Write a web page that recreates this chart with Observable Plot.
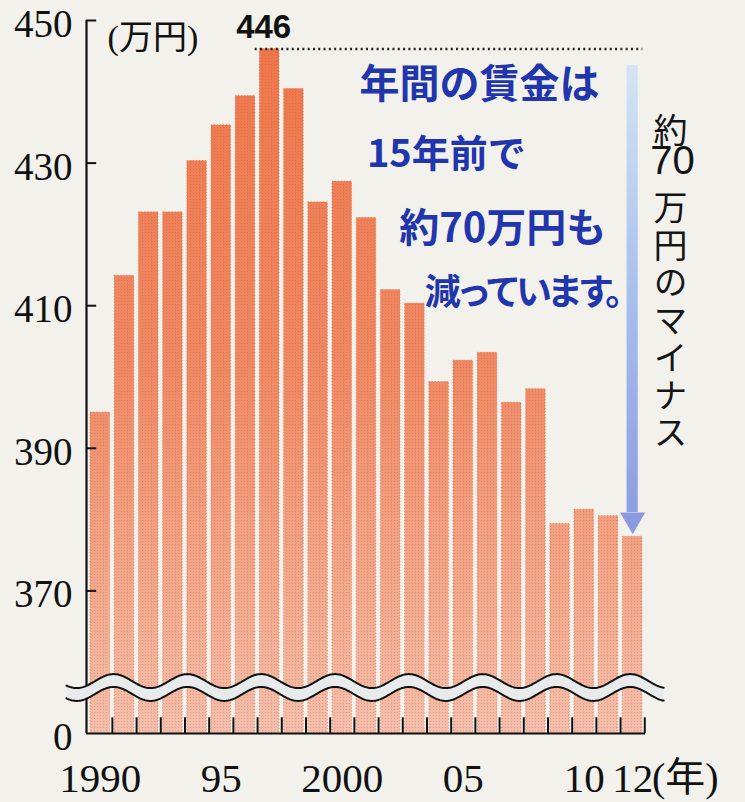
<!DOCTYPE html>
<html>
<head>
<meta charset="utf-8">
<script src="https://cdn.jsdelivr.net/npm/d3@7"></script>
<script src="https://cdn.jsdelivr.net/npm/@observablehq/plot@0.6"></script>
<style>
  html, body { margin: 0; padding: 0; background: #f2f1ec; }
  #chart { width: 745px; height: 802px; }
  .note4 text { letter-spacing: -5px; }
  .vcap text { writing-mode: vertical-rl; }
  .vcap2 text { writing-mode: vertical-rl; letter-spacing: 3.5px; }
</style>
</head>
<body>
<div id="chart"></div>
<script>
// ---- data ----
const years = [1990, 1991, 1992, 1993, 1994, 1995, 1996, 1997, 1998, 1999, 2000, 2001,
               2002, 2003, 2004, 2005, 2006, 2007, 2008, 2009, 2010, 2011, 2012];
const wages = [395.0, 414.2, 423.1, 423.1, 430.3, 435.3, 439.4, 446.0, 440.4, 424.5, 427.4, 422.3,
               412.2, 410.3, 399.3, 402.3, 403.4, 396.4, 398.3, 379.4, 381.4, 380.5, 377.6];
const yTicks = [350, 370, 390, 410, 430, 450];
const yTickLabels = ["0", "370", "390", "410", "430", "450"];
const xTicks = [1990, 1995, 2000, 2005, 2010, 2012];
const xTickLabels = ["1990", "95", "2000", "05", "10", "12"];
const unitLabel = "(万円)";
const yearLabel = "(年)";
const peakLabel = "446";
const noteLines = ["年間の賃金は", "15年前で", "約70万円も", "減っています。"];
const sideNote = ["約", "70", "万円のマイナス"];

const table = years.map((year, i) => ({year, wage: wages[i]}));
const peak = table[wages.indexOf(d3.max(wages))];
const last = table[table.length - 1];

// axis-break decoration (wavy band), in data units
const breakCenter = 356.45, breakAmp = 0.98, breakHalf = 0.9, breakPeriod = 3.05, breakPhase = 1990.55;
const wave = d3.range(1988.6, 2013.3, 0.04).map(t => {
  const c = breakCenter + breakAmp * Math.cos(2 * Math.PI * (t - breakPhase) / breakPeriod);
  return {t, top: c + breakHalf, bottom: c - breakHalf};
});

const xMin = 1989.43, xMax = 2012.53, yMin = 350, yMax = 450;
const serif = "'Liberation Serif', 'DejaVu Serif', 'Noto Sans CJK JP', serif";
const cjk = "'Noto Sans CJK JP', 'Noto Sans', sans-serif";

const notePos = [
  {x: 2005.67, y: 440.9, size: 40},
  {x: 2004.3, y: 431.1, size: 38},
  {x: 2006.63, y: 420.8, size: 40},
  {x: 2007.78, y: 411.7, size: 36}
];
const sidePos = [
  {y: 438.6, cls: "vcap"},
  {y: 430.2, cls: "hcap"},
  {y: 427.7, cls: "vcap2"}
];

const plot = Plot.plot({
  width: 745,
  height: 802,
  marginTop: 20,
  marginBottom: 69,
  marginLeft: 86,
  marginRight: 100,
  style: {background: "#f2f1ec", fontFamily: serif, overflow: "visible"},
  x: {domain: [xMin, xMax], axis: null},
  y: {domain: [yMin, yMax], axis: null},
  marks: [
    // bars
    Plot.rectY(table, {x1: d => d.year - 0.5, x2: d => d.year + 0.5, y1: yMin, y2: "wage",
      insetLeft: 2.3, insetRight: 2.3, fill: "url(#barGrad)"}),
    Plot.rectY(table, {x1: d => d.year - 0.5, x2: d => d.year + 0.5, y1: yMin, y2: "wage",
      insetLeft: 2.3, insetRight: 2.3, fill: "url(#dots)", stroke: "#d5623f", strokeWidth: 1,
      strokeDasharray: "1,2", strokeOpacity: 0.6}),
    // year boundary ticks on the base line
    Plot.ruleX(years, {x: d => d + 0.5, y1: yMin, y2: yMin + 2.2, stroke: "#111", strokeWidth: 2}),
    // axes lines
    Plot.ruleY([yMin], {x1: xMin, x2: xMax, stroke: "#111", strokeWidth: 2.2}),
    Plot.ruleX([xMin], {y1: yMin, y2: yMax, stroke: "#111", strokeWidth: 2.2}),
    Plot.ruleY(yTicks.filter(d => d > 360), {x1: xMin, x2: xMin + 0.42, stroke: "#111", strokeWidth: 2}),
    // axis break
    Plot.areaY(wave, {x: "t", y1: "bottom", y2: "top", fill: "#e7ebec", curve: "linear"}),
    Plot.line(wave, {x: "t", y: "top", stroke: "#111", strokeWidth: 2}),
    Plot.line(wave, {x: "t", y: "bottom", stroke: "#111", strokeWidth: 2}),
    // axes labels
    Plot.axisY({ticks: yTicks, tickFormat: d => yTickLabels[yTicks.indexOf(d)], tickSize: 0,
      tickPadding: 14, fontSize: 39, dy: 4, fill: "#111"}),
    Plot.axisX({ticks: xTicks, tickFormat: d => xTickLabels[xTicks.indexOf(d)], tickSize: 0,
      tickPadding: 29, fontSize: 41, fill: "#111"}),
    Plot.text([yearLabel], {x: 2012.8, y: yMin, text: d => d, textAnchor: "start", lineAnchor: "top",
      dy: 29, fontSize: 40, fill: "#111"}),
    Plot.text([unitLabel], {x: 1990.3, y: 447.6, text: d => d, textAnchor: "start", fontSize: 34,
      fill: "#111"}),
    // peak marker
    Plot.ruleY([peak], {y: "wage", x1: d => d.year - 0.6, x2: 2012.42, stroke: "#222", strokeWidth: 2.4,
      strokeDasharray: "2,3.3"}),
    Plot.text([peak], {x: "year", y: "wage", text: () => peakLabel, dy: -22, dx: -6, fontSize: 33,
      fontWeight: "bold", fontFamily: "'Liberation Sans', Arial, sans-serif", fill: "#111"}),
    // minus arrow
    Plot.rect([last], {x1: d => d.year - 0.23, x2: d => d.year + 0.23, y1: 381.0, y2: 443.7,
      fill: "url(#arrowGrad)"}),
    Plot.dot([last], {x: "year", y: 379.98, symbol: "triangle", rotate: 180, r: 9.3, fill: "#8c9be0",
      stroke: "none"}),
    // handwritten note
    ...noteLines.map((line, i) => Plot.text([line], {x: notePos[i].x, y: notePos[i].y, text: d => d,
      fontSize: notePos[i].size, fontWeight: "bold", fontFamily: cjk, fill: "#2135ad",
      className: i === 3 ? "note4" : "note"})),
    // vertical caption: 約 / 70 (upright, one cell) / 万円のマイナス
    ...sideNote.map((part, i) => Plot.text([part], {x: 2013.56, y: sidePos[i].y, text: d => d,
      textAnchor: i === 1 ? "middle" : "start",
      dx: i === 1 ? 2 : 0,
      fontSize: i === 1 ? 40 : 34,
      fontFamily: i === 1 ? "'Liberation Sans Narrow', 'Liberation Sans', sans-serif" : cjk,
      fill: "#151515", className: sidePos[i].cls}))
  ]
});

d3.select(plot).insert("defs", ":first-child").html(`
  <linearGradient id="barGrad" gradientUnits="userSpaceOnUse" x1="0" y1="20" x2="0" y2="733">
    <stop offset="0" stop-color="#ee7548"/>
    <stop offset="0.5" stop-color="#ef8a64"/>
    <stop offset="0.85" stop-color="#f2ae93"/>
    <stop offset="1" stop-color="#f3bfac"/>
  </linearGradient>
  <linearGradient id="arrowGrad" x1="0" y1="0" x2="0" y2="1">
    <stop offset="0" stop-color="#d4e4f4"/>
    <stop offset="0.5" stop-color="#a9c0ec"/>
    <stop offset="1" stop-color="#8d9ee2"/>
  </linearGradient>
  <pattern id="dots" patternUnits="userSpaceOnUse" width="3" height="3">
    <circle cx="1.5" cy="1.5" r="0.55" fill="#c4502e" fill-opacity="0.35"/>
  </pattern>
`);

// vertical text starts exactly at its anchor point
d3.select(plot).selectAll(".vcap text, .vcap2 text").attr("dy", null);

document.getElementById("chart").appendChild(plot);
</script>
</body>
</html>
